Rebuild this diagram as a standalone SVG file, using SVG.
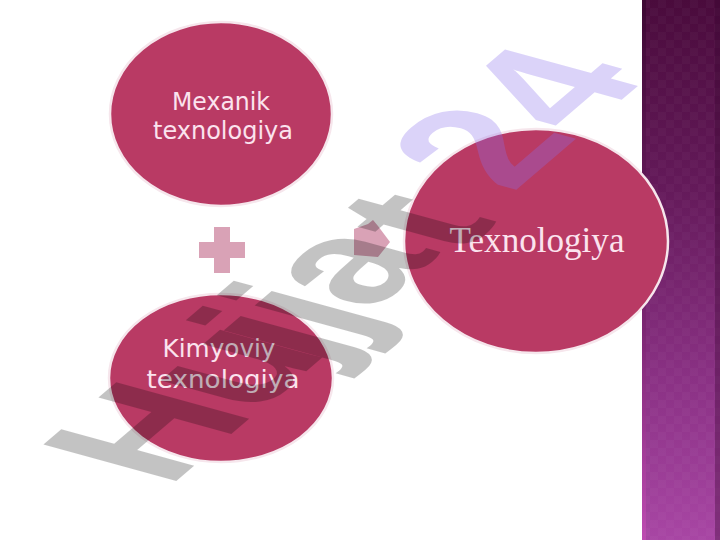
<svg xmlns="http://www.w3.org/2000/svg" width="720" height="540" viewBox="0 0 720 540">
<defs>
<linearGradient id="stripe" x1="0" y1="0" x2="0" y2="1">
<stop offset="0" stop-color="#4a0b3c"/>
<stop offset="0.35" stop-color="#641a5a"/>
<stop offset="0.7" stop-color="#8a3184"/>
<stop offset="1" stop-color="#a846a4"/>
</linearGradient>
<linearGradient id="edge" x1="0" y1="0" x2="0" y2="1">
<stop offset="0" stop-color="#3a0630"/>
<stop offset="0.6" stop-color="#7a2470"/>
<stop offset="1" stop-color="#c24cb4"/>
</linearGradient>
<pattern id="checks" width="16" height="16" patternUnits="userSpaceOnUse" x="642" y="0">
<rect x="0" y="0" width="8" height="8" fill="#ffffff" opacity="0.025"/>
<rect x="8" y="8" width="8" height="8" fill="#ffffff" opacity="0.025"/>
</pattern>
<style>
.circ{fill:#b93a64;stroke:#f6e6ec;stroke-width:2.5}
.lbl{font-family:"DejaVu Sans","Noto Sans",sans-serif;font-size:25px;fill:#fbe3ee;text-anchor:middle}
.lbl2{font-family:"Liberation Serif","Times New Roman",serif;font-size:35px;fill:#fbe3ee;text-anchor:middle}
.wm{font-family:"Liberation Sans",Arial,sans-serif;font-weight:bold;font-size:100px}
.sym{fill:#d9a2b6}
</style>
</defs>
<rect x="0" y="0" width="720" height="540" fill="#ffffff"/>
<g id="side-stripe">
<rect x="642" y="0" width="78" height="540" fill="url(#stripe)"/>
<rect x="642" y="0" width="78" height="540" fill="url(#checks)"/>
<rect x="642" y="0" width="4" height="540" fill="url(#edge)" opacity="0.8"/>
<rect x="715" y="0" width="5" height="540" fill="#3a0630" opacity="0.35"/>
</g>
<g id="node-mexanik">
<ellipse class="circ" cx="221" cy="114" rx="111" ry="92"/>
<text class="lbl" x="221" y="110" textLength="98" lengthAdjust="spacingAndGlyphs">Mexanik</text>
<text class="lbl" x="223" y="139" textLength="140" lengthAdjust="spacingAndGlyphs">texnologiya</text>
</g>
<g id="node-kimyoviy">
<ellipse class="circ" cx="221" cy="378" rx="112" ry="84"/>
<text class="lbl" x="219" y="357" textLength="113" lengthAdjust="spacingAndGlyphs">Kimyoviy</text>
<text class="lbl" x="223" y="388" textLength="153" lengthAdjust="spacingAndGlyphs">texnologiya</text>
</g>
<g id="node-texnologiya">
<ellipse class="circ" cx="536" cy="241" rx="132" ry="112"/>
<text class="lbl2" x="537" y="252" textLength="175" lengthAdjust="spacingAndGlyphs">Texnologiya</text>
</g>
<g id="connectors">
<path class="sym" d="M214,227 H230 V242 H245 V258 H230 V273 H214 V258 H199 V242 H214 Z"/>
<path class="sym" d="M354,229 L368,224 L373,220 L378,226 L390,242 L378,257 L354,255 Z"/>
</g>
<g id="watermark">
<g fill="#000000" opacity="0.23">
<text class="wm" transform="matrix(1.239,-1.06,1.932,0.529,168,488)">H</text>
<text class="wm" transform="matrix(1.239,-1.06,1.932,0.529,255,415)">u</text>
<text class="wm" transform="matrix(1.239,-1.06,1.932,0.529,317,366)">j</text>
<text class="wm" transform="matrix(1.239,-1.06,1.932,0.529,348,341)">j</text>
<text class="wm" transform="matrix(1.239,-1.06,1.932,0.529,372,312)">a</text>
<text class="wm" transform="matrix(1.239,-1.06,1.932,0.529,458,256)">t</text>
</g>
<g fill="#8a70ee" opacity="0.3">
<text class="wm" transform="matrix(1.239,-1.06,1.932,0.529,512,193.5)">2</text>
<text class="wm" transform="matrix(1.239,-1.06,1.932,0.529,581,134.6)">4</text>
</g>
</g>
</svg>
